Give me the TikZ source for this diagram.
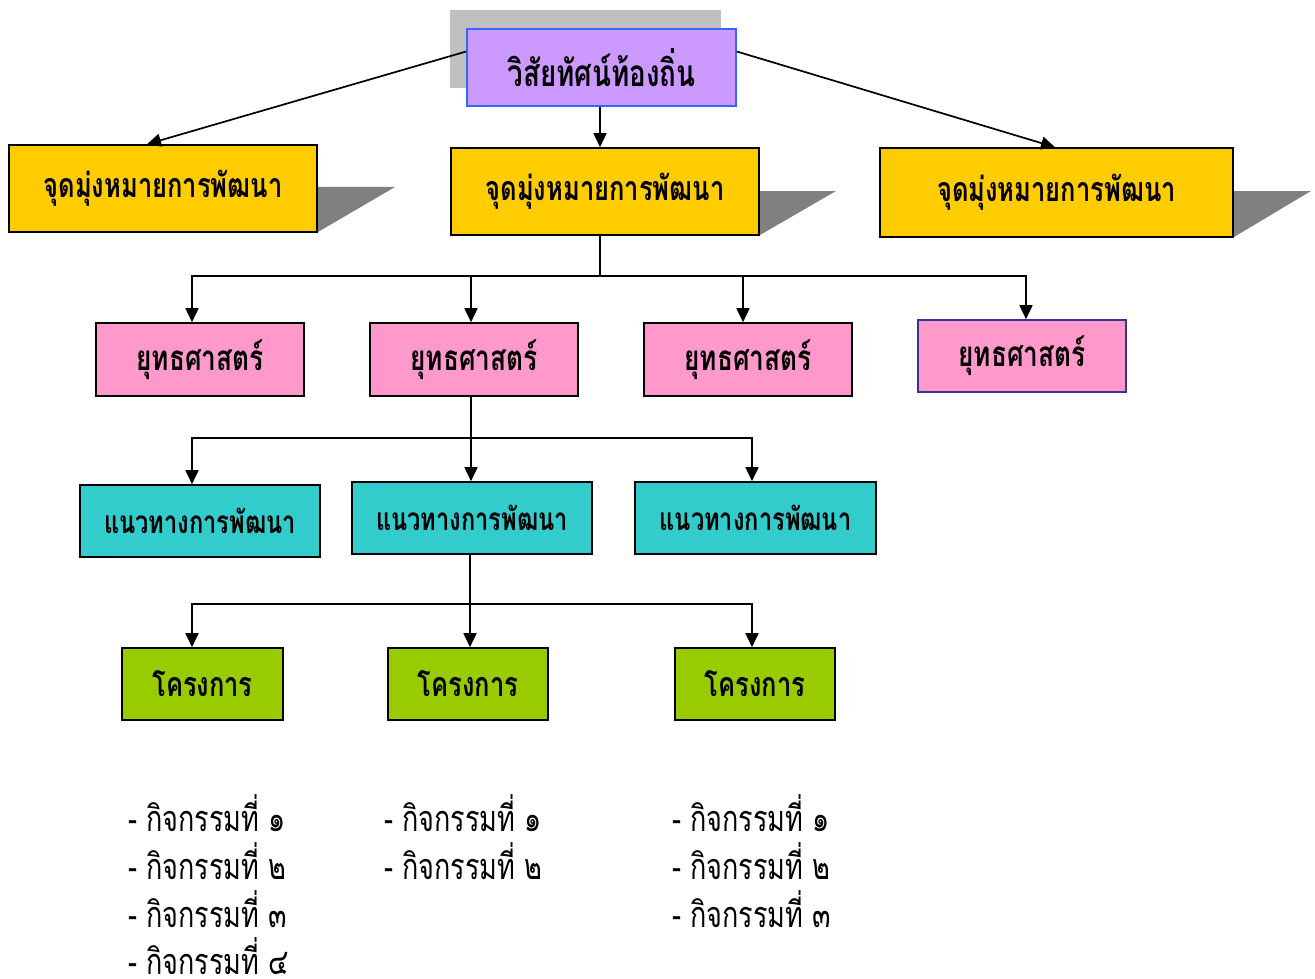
\documentclass[tikz,border=0pt]{standalone}
\usepackage{fontspec}
\newfontfamily\thaifont[Script=Thai,FakeStretch=0.75]{Loma}
\usetikzlibrary{arrows.meta,calc}
\definecolor{visfill}{HTML}{CC99FF}
\definecolor{visline}{HTML}{3366FF}
\definecolor{goalfill}{HTML}{FFCC00}
\definecolor{stratfill}{HTML}{FF99CC}
\definecolor{appfill}{HTML}{33CCCC}
\definecolor{projfill}{HTML}{99CC00}
\definecolor{shadowgray}{HTML}{808080}
\definecolor{backgray}{HTML}{C0C0C0}
\definecolor{navy}{HTML}{333399}
\tikzset{
  box/.style={draw=black,line width=1.6pt,inner sep=0pt,font=\thaifont\bfseries\fontsize{34}{38}\selectfont},
  goalbox/.style={box,fill=goalfill},
  stratbox/.style={box,fill=stratfill,font=\thaifont\bfseries\fontsize{35}{40}\selectfont},
  appbox/.style={box,fill=appfill,font=\thaifont\bfseries\fontsize{31.5}{36}\selectfont},
  projbox/.style={box,fill=projfill,font=\thaifont\bfseries\fontsize{34}{38}\selectfont},
  arr/.style={line width=1.7pt,-{Triangle[length=14pt,width=13pt]}},
  ln/.style={line width=1.7pt},
  act/.style={anchor=base west,inner sep=0pt,font=\thaifont\fontsize{36}{40}\selectfont},
}
\begin{document}
\begin{tikzpicture}[x=1pt,y=-1pt]
\useasboundingbox (0,0) rectangle (1315,979);
% back gray panel
\fill[backgray] (450,10) rectangle (721,88);
% shadows
\fill[shadowgray] (316,187) -- (395,187) -- (318,232) -- cycle;
\fill[shadowgray] (758,191) -- (836,191) -- (760,235) -- cycle;
\fill[shadowgray] (1232,191) -- (1311,191) -- (1234,237) -- cycle;
% vision
\node[box,draw=visline,fill=visfill,minimum width=269pt,minimum height=77pt,font=\thaifont\bfseries\fontsize{37}{42}\selectfont] (vis) at (601.5,67.5) {วิสัยทัศน์ท้องถิ่น};
% goals
\node[goalbox,minimum width=308pt,minimum height=87pt] (g1) at (163,188.5) {จุดมุ่งหมายการพัฒนา};
\node[goalbox,minimum width=308pt,minimum height=87pt] (g2) at (605,191.5) {จุดมุ่งหมายการพัฒนา};
\node[goalbox,minimum width=353pt,minimum height=89pt] (g3) at (1056.5,192.5) {จุดมุ่งหมายการพัฒนา};
% strategies
\node[stratbox,minimum width=208pt,minimum height=73pt] (s1) at (200,359.5) {ยุทธศาสตร์};
\node[stratbox,minimum width=208pt,minimum height=73pt] (s2) at (474,359.5) {ยุทธศาสตร์};
\node[stratbox,minimum width=208pt,minimum height=73pt] (s3) at (748,359.5) {ยุทธศาสตร์};
\node[stratbox,draw=navy,minimum width=208pt,minimum height=72pt] (s4) at (1022,356) {ยุทธศาสตร์};
% approaches
\node[appbox,minimum width=240pt,minimum height=72pt] (a1) at (200,521) {แนวทางการพัฒนา};
\node[appbox,minimum width=240pt,minimum height=72pt] (a2) at (472,518) {แนวทางการพัฒนา};
\node[appbox,minimum width=241pt,minimum height=72pt] (a3) at (755.5,518) {แนวทางการพัฒนา};
% projects
\node[projbox,minimum width=161pt,minimum height=72pt] (p1) at (202.5,684) {โครงการ};
\node[projbox,minimum width=160pt,minimum height=72pt] (p2) at (468,684) {โครงการ};
\node[projbox,minimum width=160pt,minimum height=72pt] (p3) at (755,684) {โครงการ};
% vision arrows
\draw[arr] ([yshift=16pt]vis.west) -- ([xshift=-16pt]g1.north);
\draw[arr] ([yshift=16pt]vis.east) -- ([xshift=-1.5pt]g3.north);
\draw[arr] ([xshift=-1.5pt]vis.south) -- ([xshift=-5pt]g2.north);
% goal -> strategies
\coordinate (t1) at ([xshift=-5pt]g2.south);
\draw[ln] (t1) -- ++(0,41);
\draw[arr] (t1) ++(0,40) -| ([xshift=-8pt]s1.north);
\draw[arr] (t1) ++(0,40) -| ([xshift=-3pt]s2.north);
\draw[arr] (t1) ++(0,40) -| ([xshift=-5pt]s3.north);
\draw[arr] (t1) ++(0,40) -| ([xshift=4pt]s4.north);
% strategy -> approaches
\coordinate (t2) at ([xshift=-3pt]s2.south);
\draw[arr] (t2) -- ++(0,41) -| ([xshift=-8pt]a1.north);
\draw[arr] (t2) -- ([xshift=-1pt]a2.north);
\draw[arr] (t2) -- ++(0,41) -| ([xshift=-3.5pt]a3.north);
% approach -> projects
\coordinate (t3) at ([xshift=-2pt]a2.south);
\draw[arr] (t3) -- ++(0,49) -| ([xshift=-10.5pt]p1.north);
\draw[arr] (t3) -- ([xshift=2pt]p2.north);
\draw[arr] (t3) -- ++(0,49) -| ([xshift=-3pt]p3.north);
% activities
\node[act] (c1a) at (128,831) {- กิจกรรมที่ ๑};
\node[act] (c1b) at (128,879) {- กิจกรรมที่ ๒};
\node[act] (c1c) at (128,927) {- กิจกรรมที่ ๓};
\node[act] (c1d) at (128,974) {- กิจกรรมที่ ๔};
\node[act] (c2a) at (384,831) {- กิจกรรมที่ ๑};
\node[act] (c2b) at (384,879) {- กิจกรรมที่ ๒};
\node[act] (c3a) at (672,831) {- กิจกรรมที่ ๑};
\node[act] (c3b) at (672,879) {- กิจกรรมที่ ๒};
\node[act] (c3c) at (672,927) {- กิจกรรมที่ ๓};
\end{tikzpicture}
\end{document}
